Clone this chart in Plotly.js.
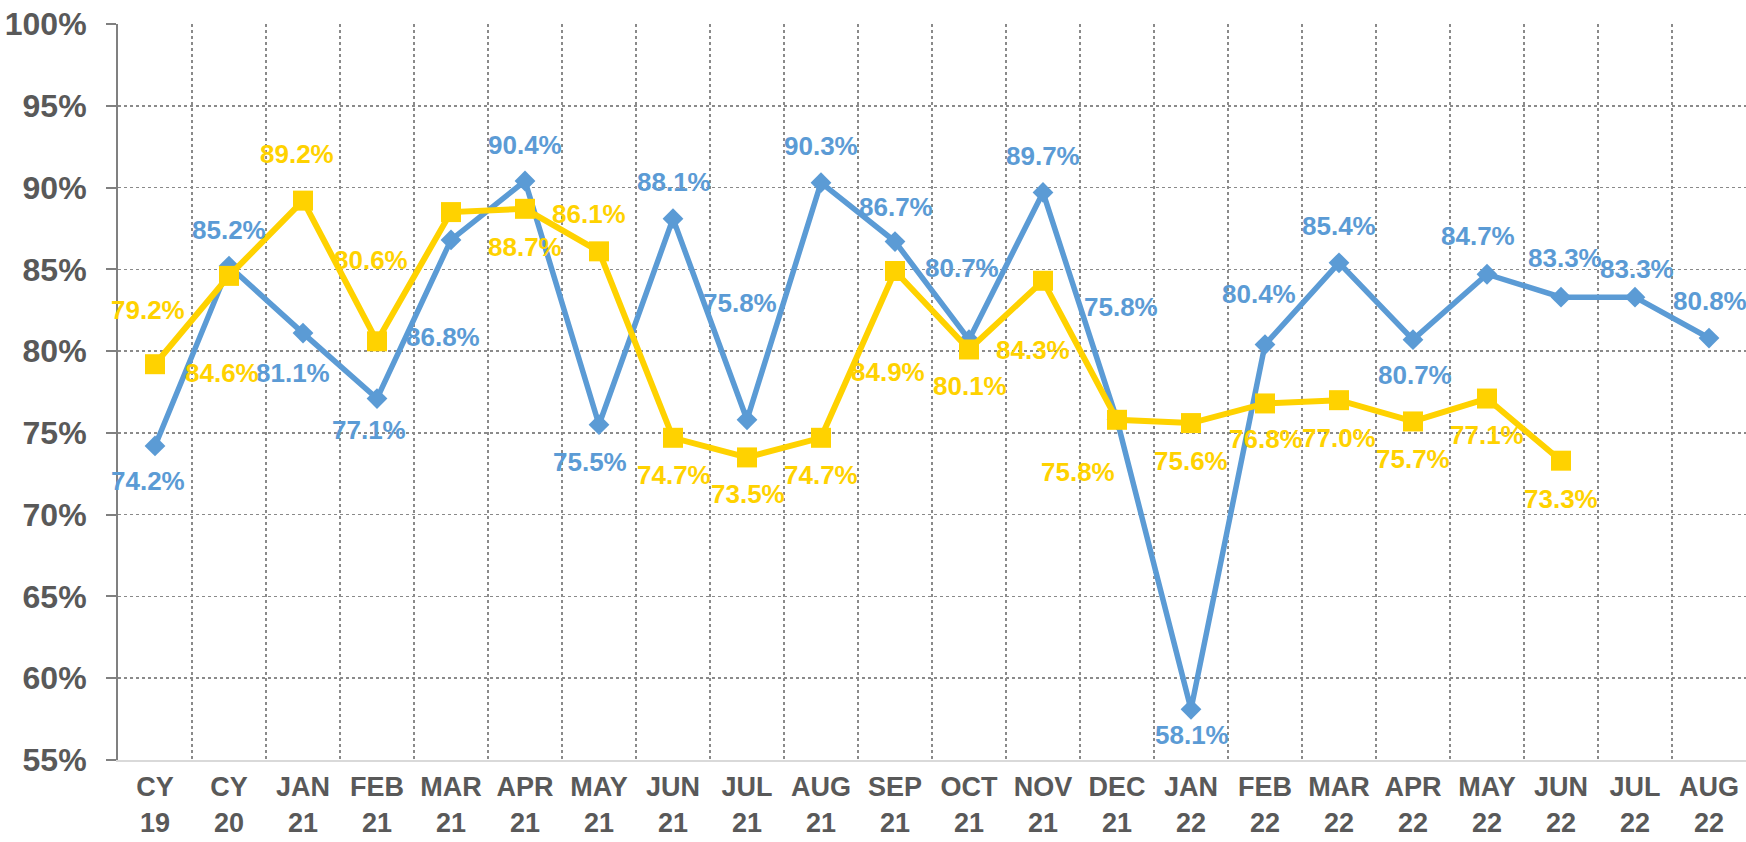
<!DOCTYPE html>
<html>
<head>
<meta charset="utf-8">
<script src="https://cdn.plot.ly/plotly-3.0.1.min.js"></script>
<style>
  html, body { margin: 0; padding: 0; background: #ffffff; }
  #chart { width: 1746px; height: 842px; }
</style>
</head>
<body>
<div id="chart"></div>
<script>
// ---- Data ----
const categories = [
  'CY<br>19', 'CY<br>20', 'JAN<br>21', 'FEB<br>21', 'MAR<br>21', 'APR<br>21',
  'MAY<br>21', 'JUN<br>21', 'JUL<br>21', 'AUG<br>21', 'SEP<br>21', 'OCT<br>21',
  'NOV<br>21', 'DEC<br>21', 'JAN<br>22', 'FEB<br>22', 'MAR<br>22', 'APR<br>22',
  'MAY<br>22', 'JUN<br>22', 'JUL<br>22', 'AUG<br>22'
];

const blueValues = [
  74.2, 85.2, 81.1, 77.1, 86.8, 90.4, 75.5, 88.1, 75.8, 90.3, 86.7, 80.7,
  89.7, 75.8, 58.1, 80.4, 85.4, 80.7, 84.7, 83.3, 83.3, 80.8
];

const yellowValues = [
  79.2, 84.6, 89.2, 80.6, 88.5, 88.7, 86.1, 74.7, 73.5, 74.7, 84.9, 80.1,
  84.3, 75.8, 75.6, 76.8, 77.0, 75.7, 77.1, 73.3, null, null
];

// which yellow points carry a visible data label in the reference
const yellowLabelShown = [
  true, true, true, true, false, true, true, true, true, true, true, true,
  true, true, true, true, true, true, true, true, false, false
];

// ---- Label offsets (pixels, dx right, dy down) ----
const blueLabelOffsets = [
  [-7, 35], [0, -36], [-10, 40], [-8, 31], [-8, 97], [0, -36], [-9, 37], [1, -37],
  [-7, -117], [0, -37], [1, -35], [-7, -72], [0, -36], [4, -113], [1, 26], [-6, -51],
  [0, -37], [2, 35], [-9, -38], [4, -39], [2, -28], [1, -37]
];
const yellowLabelOffsets = [
  [-7, -54], [-7, 97], [-6, -47], [-6, -81], [0, 0], [0, 38], [-10, -37], [1, 37],
  [1, 37], [0, 37], [-7, 101], [1, 37], [-10, 69], [-39, 52], [0, 38], [1, 36],
  [0, 38], [0, 38], [0, 36], [0, 38], [0, 0], [0, 0]
];

// ---- Styles ----
const BLUE = '#5B9BD5';
const YELLOW = '#FFD200';
const TEXT_GRAY = '#595959';
const FONT = 'Arial, "Liberation Sans", sans-serif';

const traces = [
  {
    type: 'scatter',
    mode: 'lines+markers',
    x: categories,
    y: blueValues,
    line: { color: BLUE, width: 5.5 },
    marker: { symbol: 'diamond', size: 16, color: BLUE },
    hoverinfo: 'x+y',
    showlegend: false
  },
  {
    type: 'scatter',
    mode: 'lines+markers',
    x: categories,
    y: yellowValues,
    line: { color: YELLOW, width: 6 },
    marker: { symbol: 'square', size: 20, color: YELLOW },
    hoverinfo: 'x+y',
    showlegend: false
  }
];

const annotations = [];
blueValues.forEach((v, i) => {
  if (v === null) return;
  annotations.push({
    xref: 'x', yref: 'y', x: categories[i], y: v,
    text: v.toFixed(1) + '%',
    showarrow: false,
    xanchor: 'center', yanchor: 'middle',
    xshift: blueLabelOffsets[i][0], yshift: -blueLabelOffsets[i][1],
    font: { family: FONT, size: 26, color: BLUE, weight: 'bold' }
  });
});
yellowValues.forEach((v, i) => {
  if (v === null || !yellowLabelShown[i]) return;
  annotations.push({
    xref: 'x', yref: 'y', x: categories[i], y: v,
    text: v.toFixed(1) + '%',
    showarrow: false,
    xanchor: 'center', yanchor: 'middle',
    xshift: yellowLabelOffsets[i][0], yshift: -yellowLabelOffsets[i][1],
    font: { family: FONT, size: 26, color: YELLOW, weight: 'bold' }
  });
});

const layout = {
  width: 1746,
  height: 842,
  margin: { l: 118, r: 0, t: 24, b: 82, pad: 0 },
  paper_bgcolor: '#ffffff',
  plot_bgcolor: '#ffffff',
  showlegend: false,
  font: { family: FONT, color: TEXT_GRAY },
  xaxis: {
    type: 'category',
    range: [-0.5, 21.5],
    tickson: 'boundaries',
    ticks: '',
    showgrid: true,
    gridcolor: '#8a8a8a',
    gridwidth: 1.5,
    griddash: 'dot',
    showline: true,
    linecolor: '#d9d9d9',
    linewidth: 2,
    ticklabelstandoff: 2,
    tickfont: { family: FONT, size: 27, color: TEXT_GRAY, weight: 'bold' },
    fixedrange: true
  },
  yaxis: {
    range: [55, 100],
    dtick: 5,
    tick0: 55,
    ticksuffix: '%',
    showgrid: true,
    gridcolor: '#8a8a8a',
    gridwidth: 1.5,
    griddash: 'dot',
    zeroline: false,
    showline: true,
    linecolor: '#808080',
    linewidth: 2,
    ticks: 'outside',
    ticklen: 10,
    tickwidth: 2,
    tickcolor: '#808080',
    ticklabelstandoff: 13,
    tickfont: { family: FONT, size: 32, color: TEXT_GRAY, weight: 'bold' },
    fixedrange: true
  },
  annotations: annotations
};

Plotly.newPlot('chart', traces, layout, { displayModeBar: false, staticPlot: true });
</script>
</body>
</html>
